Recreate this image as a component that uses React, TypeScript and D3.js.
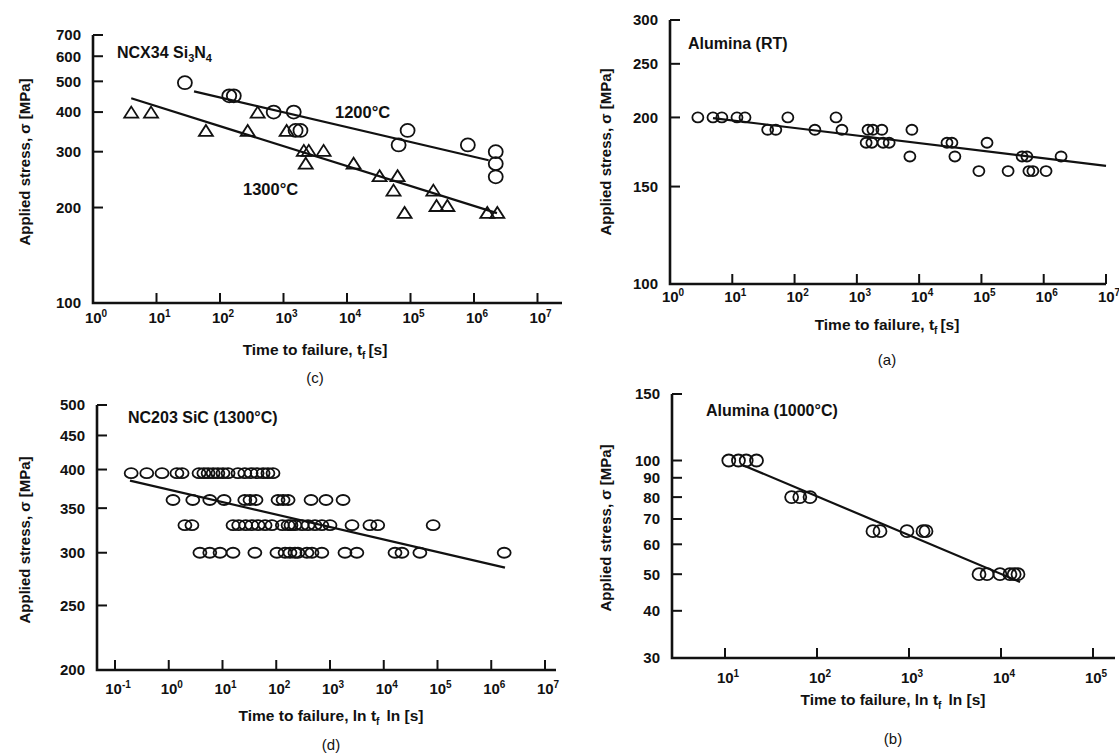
import React from 'react';
import * as d3 from 'd3';

const FONT = "'Liberation Sans', Arial, Helvetica, sans-serif";

// ---------- Panel (c): NCX34 Si3N4 ----------
const c1200Time = [28, 140, 165, 700, 1450, 1550, 1850, 65000, 90000, 800000, 2.2e6, 2.2e6, 2.2e6];
const c1200Stress = [495, 450, 450, 400, 400, 350, 350, 315, 350, 315, 300, 275, 250];
const c1300Time = [4, 8.2, 60, 273, 392, 1120, 2090, 2500, 4280, 2240, 12700, 32600, 62600, 54000, 229000, 257000, 381000, 80700, 1.62e6, 2.33e6];
const c1300Stress = [400, 400, 350, 350, 400, 350, 303, 303, 303, 276, 276, 252, 252, 227, 227, 203, 203, 193, 193, 193];
const c1200FitTime = [39, 1.7e6];
const c1200FitStress = [465, 282];
const c1300FitTime = [4, 2.3e6];
const c1300FitStress = [442, 192];
const cYTicks = [100, 200, 300, 400, 500, 600, 700];
const cXExps = [0, 1, 2, 3, 4, 5, 6, 7];

// ---------- Panel (a): Alumina (RT) ----------
const aTime = [2.8, 4.9, 6.8, 11.9, 16, 37, 50, 78, 212, 463, 576, 1510, 1810, 2520, 1410, 1740, 2640, 3300, 7650, 7100, 28000, 33600, 37500, 123000, 91000, 268000, 450000, 537000, 578000, 670000, 1.09e6, 1.9e6];
const aStress = [200, 200, 200, 200, 200, 190, 190, 200, 190, 200, 190, 190, 190, 190, 180, 180, 180, 180, 190, 170, 180, 180, 170, 180, 160, 160, 170, 170, 160, 160, 160, 170];
const aFitTime = [4.9, 1e7];
const aFitStress = [199.5, 163.5];
const aYTicks = [100, 150, 200, 250, 300];
const aXExps = [0, 1, 2, 3, 4, 5, 6, 7];

// ---------- Panel (d): NC203 SiC (1300°C) ----------
const d395Time = [0.2, 0.39, 0.75, 1.42, 1.77, 3.66, 4.5, 5.4, 6.7, 8.2, 10.2, 12.7, 19.4, 26, 34, 44, 57, 70, 87];
const d360Time = [1.2, 2.8, 5.8, 10.7, 26, 32.5, 42, 108, 134, 166, 444, 843, 1750];
const d330Time = [2.0, 2.7, 15.7, 20, 27, 35, 46, 62, 83, 130, 166, 188, 223, 302, 390, 525, 705, 1000, 2570, 5530, 7720, 83000];
const d300Time = [3.8, 5.8, 9, 15.7, 40, 103, 146, 180, 223, 253, 372, 462, 705, 1900, 3160, 16200, 21800, 47000, 1.74e6];
const dRowStress = [395, 360, 330, 300];
const dFitTime = [0.19, 1.8e6];
const dFitStress = [385, 285];
const dYTicks = [200, 250, 300, 350, 400, 450, 500];
const dXExps = [-1, 0, 1, 2, 3, 4, 5, 6, 7];

// ---------- Panel (b): Alumina (1000°C) ----------
const bTime = [11, 14, 17, 22, 53, 65, 84, 406, 484, 950, 1420, 1530, 5770, 7050, 9750, 12500, 13900, 15300];
const bStress = [100, 100, 100, 100, 80, 80, 80, 65, 65, 65, 65, 65, 50, 50, 50, 50, 50, 50];
const bFitTime = [15.7, 16100];
const bFitStress = [97.2, 47.7];
const bYTicks = [30, 40, 50, 60, 70, 80, 90, 100, 150];
const bXExps = [1, 2, 3, 4, 5];

type Pt = { t: number; s: number };
type SeriesDef = { pts: Pt[]; shape: 'circle' | 'triangle'; rx: number; ry: number };
type FitDef = { t: number[]; s: number[] };

const zip = (t: number[], s: number[]): Pt[] => t.map((v, i) => ({ t: v, s: s[i] }));

interface PanelProps {
  xDomain: [number, number];
  xRange: [number, number];
  axisLeft: number;
  axisRight: number;
  yDomain: [number, number];
  yRange: [number, number];
  xExps: number[];
  yTicks: number[];
  series: SeriesDef[];
  fits: FitDef[];
  xLabelY: number;
  yLabelX: number;
  yLabelY: number;
  xTitle: React.ReactNode;
  xTitleX: number;
  xTitleY: number;
  letter: string;
  letterY: number;
  children?: React.ReactNode;
}

function Panel(p: PanelProps) {
  const x = d3.scaleLog().domain(p.xDomain).range(p.xRange);
  const y = d3.scaleLog().domain(p.yDomain).range(p.yRange);
  const yBottom = p.yRange[0];
  const yTop = p.yRange[1];
  const line = d3
    .line<Pt>()
    .x((d) => x(d.t))
    .y((d) => y(d.s));
  const tri = (cx: number, cy: number, w: number, h: number) =>
    `M${cx - w / 2},${cy + h / 2}L${cx + w / 2},${cy + h / 2}L${cx},${cy - h / 2}Z`;
  return (
    <g fontFamily={FONT}>
      <path
        d={`M${p.axisLeft},${yTop}L${p.axisLeft},${yBottom}L${p.axisRight},${yBottom}`}
        fill="none"
        stroke="#111"
        strokeWidth={2.6}
      />
      {p.yTicks.map((v) => (
        <g key={'y' + v}>
          <line x1={p.axisLeft} x2={p.axisLeft + 10} y1={y(v)} y2={y(v)} stroke="#111" strokeWidth={2} />
          <text
            x={p.axisLeft - 12}
            y={y(v)}
            dy="0.36em"
            textAnchor="end"
            fontSize={15}
            fontWeight="bold"
            fill="#111"
          >
            {v}
          </text>
        </g>
      ))}
      {p.xExps.map((e) => {
        const px = x(Math.pow(10, e));
        return (
          <g key={'x' + e}>
            <line x1={px} x2={px} y1={yBottom} y2={yBottom - 10} stroke="#111" strokeWidth={2} />
            <text x={px + 3} y={p.xLabelY} textAnchor="middle" fontSize={15} fontWeight="bold" fill="#111">
              <tspan>10</tspan>
              <tspan dy={-6} fontSize={10}>
                {e}
              </tspan>
            </text>
          </g>
        );
      })}
      <text
        transform={`translate(${p.yLabelX},${p.yLabelY}) rotate(-90)`}
        textAnchor="middle"
        dominantBaseline="central"
        fontSize={15}
        fontWeight="bold"
        fill="#111"
      >
        Applied stress, σ [MPa]
      </text>
      <text x={p.xTitleX} y={p.xTitleY} textAnchor="middle" fontSize={15.5} fontWeight="bold" fill="#111">
        {p.xTitle}
      </text>
      <text x={p.xTitleX} y={p.letterY} textAnchor="middle" fontSize={15} fill="#111">
        ({p.letter})
      </text>
      {p.fits.map((f, i) => (
        <path key={'f' + i} d={line(zip(f.t, f.s)) || ''} fill="none" stroke="#111" strokeWidth={2.2} />
      ))}
      {p.series.map((s, si) =>
        s.pts.map((d, i) =>
          s.shape === 'circle' ? (
            <ellipse
              key={si + '-' + i}
              cx={x(d.t)}
              cy={y(d.s)}
              rx={s.rx}
              ry={s.ry}
              fill="none"
              stroke="#111"
              strokeWidth={1.8}
            />
          ) : (
            <path
              key={si + '-' + i}
              d={tri(x(d.t), y(d.s), s.rx * 2, s.ry * 2)}
              fill="none"
              stroke="#111"
              strokeWidth={1.8}
              strokeLinejoin="miter"
            />
          )
        )
      )}
      {p.children}
    </g>
  );
}

const tfTitle = (ln: boolean) =>
  ln ? (
    <>
      <tspan>Time to failure, ln t</tspan>
      <tspan dy={4} fontSize={10}>
        f
      </tspan>
      <tspan dy={-4} dx={7}>
        ln [s]
      </tspan>
    </>
  ) : (
    <>
      <tspan>Time to failure, t</tspan>
      <tspan dy={4} fontSize={10}>
        f
      </tspan>
      <tspan dy={-4} dx={3}>
        [s]
      </tspan>
    </>
  );

export default function App() {
  const dSeries: SeriesDef[] = [d395Time, d360Time, d330Time, d300Time].map((ts, i) => ({
    pts: ts.map((t) => ({ t, s: dRowStress[i] })),
    shape: 'circle',
    rx: 6.5,
    ry: 5,
  }));
  return (
    <svg
      width={1119}
      height={755}
      viewBox="0 0 1119 755"
      style={{ position: 'absolute', left: 0, top: 0, background: '#fff' }}
    >
      <rect width={1119} height={755} fill="#fff" />
      {/* (c) */}
      <Panel
        xDomain={[1, 1e7]}
        xRange={[93, 537.5]}
        axisLeft={93}
        axisRight={562}
        yDomain={[100, 700]}
        yRange={[303, 35]}
        xExps={cXExps}
        yTicks={cYTicks}
        series={[
          { pts: zip(c1200Time, c1200Stress), shape: 'circle', rx: 7, ry: 6.5 },
          { pts: zip(c1300Time, c1300Stress), shape: 'triangle', rx: 7, ry: 5.5 },
        ]}
        fits={[
          { t: c1200FitTime, s: c1200FitStress },
          { t: c1300FitTime, s: c1300FitStress },
        ]}
        xLabelY={323}
        yLabelX={24}
        yLabelY={162}
        xTitle={tfTitle(false)}
        xTitleX={315}
        xTitleY={355}
        letter="c"
        letterY={383}
      >
        <text x={117} y={58} fontSize={16} fontWeight="bold" fill="#111">
          <tspan>NCX34 Si</tspan>
          <tspan dy={4} fontSize={11}>3</tspan>
          <tspan dy={-4}>N</tspan>
          <tspan dy={4} fontSize={11}>4</tspan>
        </text>
        <text x={335} y={118} fontSize={16.5} fontWeight="bold" fill="#111">
          1200°C
        </text>
        <text x={243} y={195} fontSize={16.5} fontWeight="bold" fill="#111">
          1300°C
        </text>
      </Panel>
      {/* (a) */}
      <Panel
        xDomain={[1, 1e7]}
        xRange={[670, 1106]}
        axisLeft={670}
        axisRight={1106}
        yDomain={[100, 300]}
        yRange={[284, 20]}
        xExps={aXExps}
        yTicks={aYTicks}
        series={[{ pts: zip(aTime, aStress), shape: 'circle', rx: 5.5, ry: 5 }]}
        fits={[{ t: aFitTime, s: aFitStress }]}
        xLabelY={302}
        yLabelX={605}
        yLabelY={152}
        xTitle={tfTitle(false)}
        xTitleX={887}
        xTitleY={330}
        letter="a"
        letterY={365}
      >
        <text x={688} y={49} fontSize={16} fontWeight="bold" fill="#111">
          Alumina (RT)
        </text>
      </Panel>
      {/* (d) */}
      <Panel
        xDomain={[0.1, 1e7]}
        xRange={[115, 545]}
        axisLeft={97}
        axisRight={556}
        yDomain={[200, 500]}
        yRange={[670, 405]}
        xExps={dXExps}
        yTicks={dYTicks}
        series={dSeries}
        fits={[{ t: dFitTime, s: dFitStress }]}
        xLabelY={694}
        yLabelX={24}
        yLabelY={540}
        xTitle={tfTitle(true)}
        xTitleX={331}
        xTitleY={721}
        letter="d"
        letterY={750}
      >
        <text x={128} y={423} fontSize={16} fontWeight="bold" fill="#111">
          NC203 SiC (1300°C)
        </text>
      </Panel>
      {/* (b) */}
      <Panel
        xDomain={[10, 1e5]}
        xRange={[725, 1093]}
        axisLeft={672}
        axisRight={1115}
        yDomain={[30, 150]}
        yRange={[658, 394]}
        xExps={bXExps}
        yTicks={bYTicks}
        series={[{ pts: zip(bTime, bStress), shape: 'circle', rx: 6.5, ry: 6 }]}
        fits={[{ t: bFitTime, s: bFitStress }]}
        xLabelY={683}
        yLabelX={605}
        yLabelY={528}
        xTitle={tfTitle(true)}
        xTitleX={893}
        xTitleY={705}
        letter="b"
        letterY={744}
      >
        <text x={706} y={416} fontSize={16} fontWeight="bold" fill="#111">
          Alumina (1000°C)
        </text>
      </Panel>
    </svg>
  );
}
